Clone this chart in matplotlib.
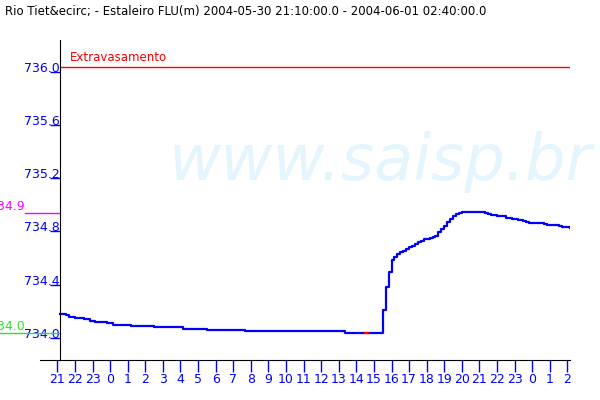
import numpy as np
import matplotlib
matplotlib.use('Agg')
import matplotlib.pyplot as plt
from matplotlib.transforms import ScaledTranslation, blended_transform_factory

title = 'Rio Tiet&ecirc; - Estaleiro FLU(m) 2004-05-30 21:10:00.0 - 2004-06-01 02:40:00.0'

# level readings every 10 min from 21:10 (hours counted from 2004-05-30 00:00)
level = ([734.143] * 2 + [734.135] + [734.122] * 2 + [734.115] * 3 + [734.107] * 2
         + [734.092] * 2 + [734.085] * 4 + [734.077] * 2 + [734.062] * 6
         + [734.055] * 8 + [734.047] * 10 + [734.032] * 8 + [734.025] * 13
         + [734.017] * 34 + [734.002] * 13
         + [734.173, 734.345, 734.458, 734.548, 734.571, 734.593, 734.608, 734.616,
            734.627, 734.642, 734.653, 734.665, 734.681, 734.693, 734.702, 734.708,
            734.713, 734.719, 734.731, 734.755, 734.777, 734.804, 734.834, 734.856,
            734.879, 734.894, 734.901, 734.909]
         + [734.911] * 6
         + [734.905, 734.899, 734.894, 734.886, 734.884, 734.881, 734.881, 734.881,
            734.866, 734.862, 734.859, 734.856, 734.851, 734.849, 734.841, 734.836,
            734.828, 734.828, 734.828, 734.828, 734.826, 734.819, 734.811,
            734.809, 734.809, 734.809, 734.800, 734.798, 734.798, 734.796, 734.791])
hours = 21 + 10 / 60 + np.arange(len(level)) / 6

flagged = slice(104, 106)   # short red piece on the curve

extravasamento = 736.0
alerta = 734.9
minimo = 734.0

yticks = [734.0, 734.4, 734.8, 735.2, 735.6, 736.0]
xticks = np.arange(21, 51)
xticklabels = [str(h % 24) for h in xticks]

fig = plt.figure(figsize=(6, 4), dpi=100)
ax = fig.add_axes([40 / 600, 40 / 400, 530 / 600, 320 / 400])
ax.patch.set_visible(False)

fig.text(380 / 600, 1 - 180 / 400, 'www.saisp.br', ha='center', va='baseline',
         fontsize=46, style='italic', color='#e4f5fd', zorder=-1)
fig.text(5 / 600, 1 - 11 / 400, title, va='center', fontsize=8.5)

x_left = 21.148
ax.set_xlim(20.011, 50.15)
ax.set_ylim(733.797, 736.2)

ax.spines['top'].set_visible(False)
ax.spines['right'].set_visible(False)
ax.spines['left'].set_position(('data', x_left))

ax.hlines(extravasamento, x_left, 50.15, color='red', lw=1)
ax.text(21.7, extravasamento, 'Extravasamento', color='red', fontsize=8.5,
        va='bottom', transform=ax.transData + ScaledTranslation(0, 3 / 100, fig.dpi_scale_trans))

ax.plot(hours, level, color='blue', lw=1.6, drawstyle='steps-post')
ax.plot(hours[flagged], np.array(level)[flagged], color='red', lw=1.6, drawstyle='steps-post')

# reference levels drawn in the left margin
trans = blended_transform_factory(ax.transAxes, ax.transData)
ax.plot([-15 / 530, 20 / 530], [alerta, alerta], color='magenta', lw=1, transform=trans, clip_on=False)
ax.plot([-40 / 530, 20 / 530], [minimo, minimo], color='#33dd33', lw=1, transform=trans, clip_on=False)
ax.text(-15 / 530, alerta, '734.9', color='magenta', fontsize=9, ha='right', va='bottom',
        transform=trans, clip_on=False)
ax.text(-15 / 530, minimo, '734.0', color='#33dd33', fontsize=9, ha='right', va='bottom',
        transform=trans, clip_on=False)

ax.set_yticks(yticks)
ax.set_yticklabels(['%.1f' % v for v in yticks])
ax.tick_params(axis='y', colors='blue', length=7.2, width=1, pad=-7.2, labelsize=9)
down = ScaledTranslation(0, -5 / 100, fig.dpi_scale_trans)
for t in ax.yaxis.get_major_ticks():
    t.tick1line.set_transform(t.tick1line.get_transform() + down)

ax.set_xticks(xticks)
ax.set_xticklabels(xticklabels)
ax.tick_params(axis='x', colors='blue', length=8.6, width=1, pad=1, labelsize=9)

fig.savefig('out.png', dpi=100)
